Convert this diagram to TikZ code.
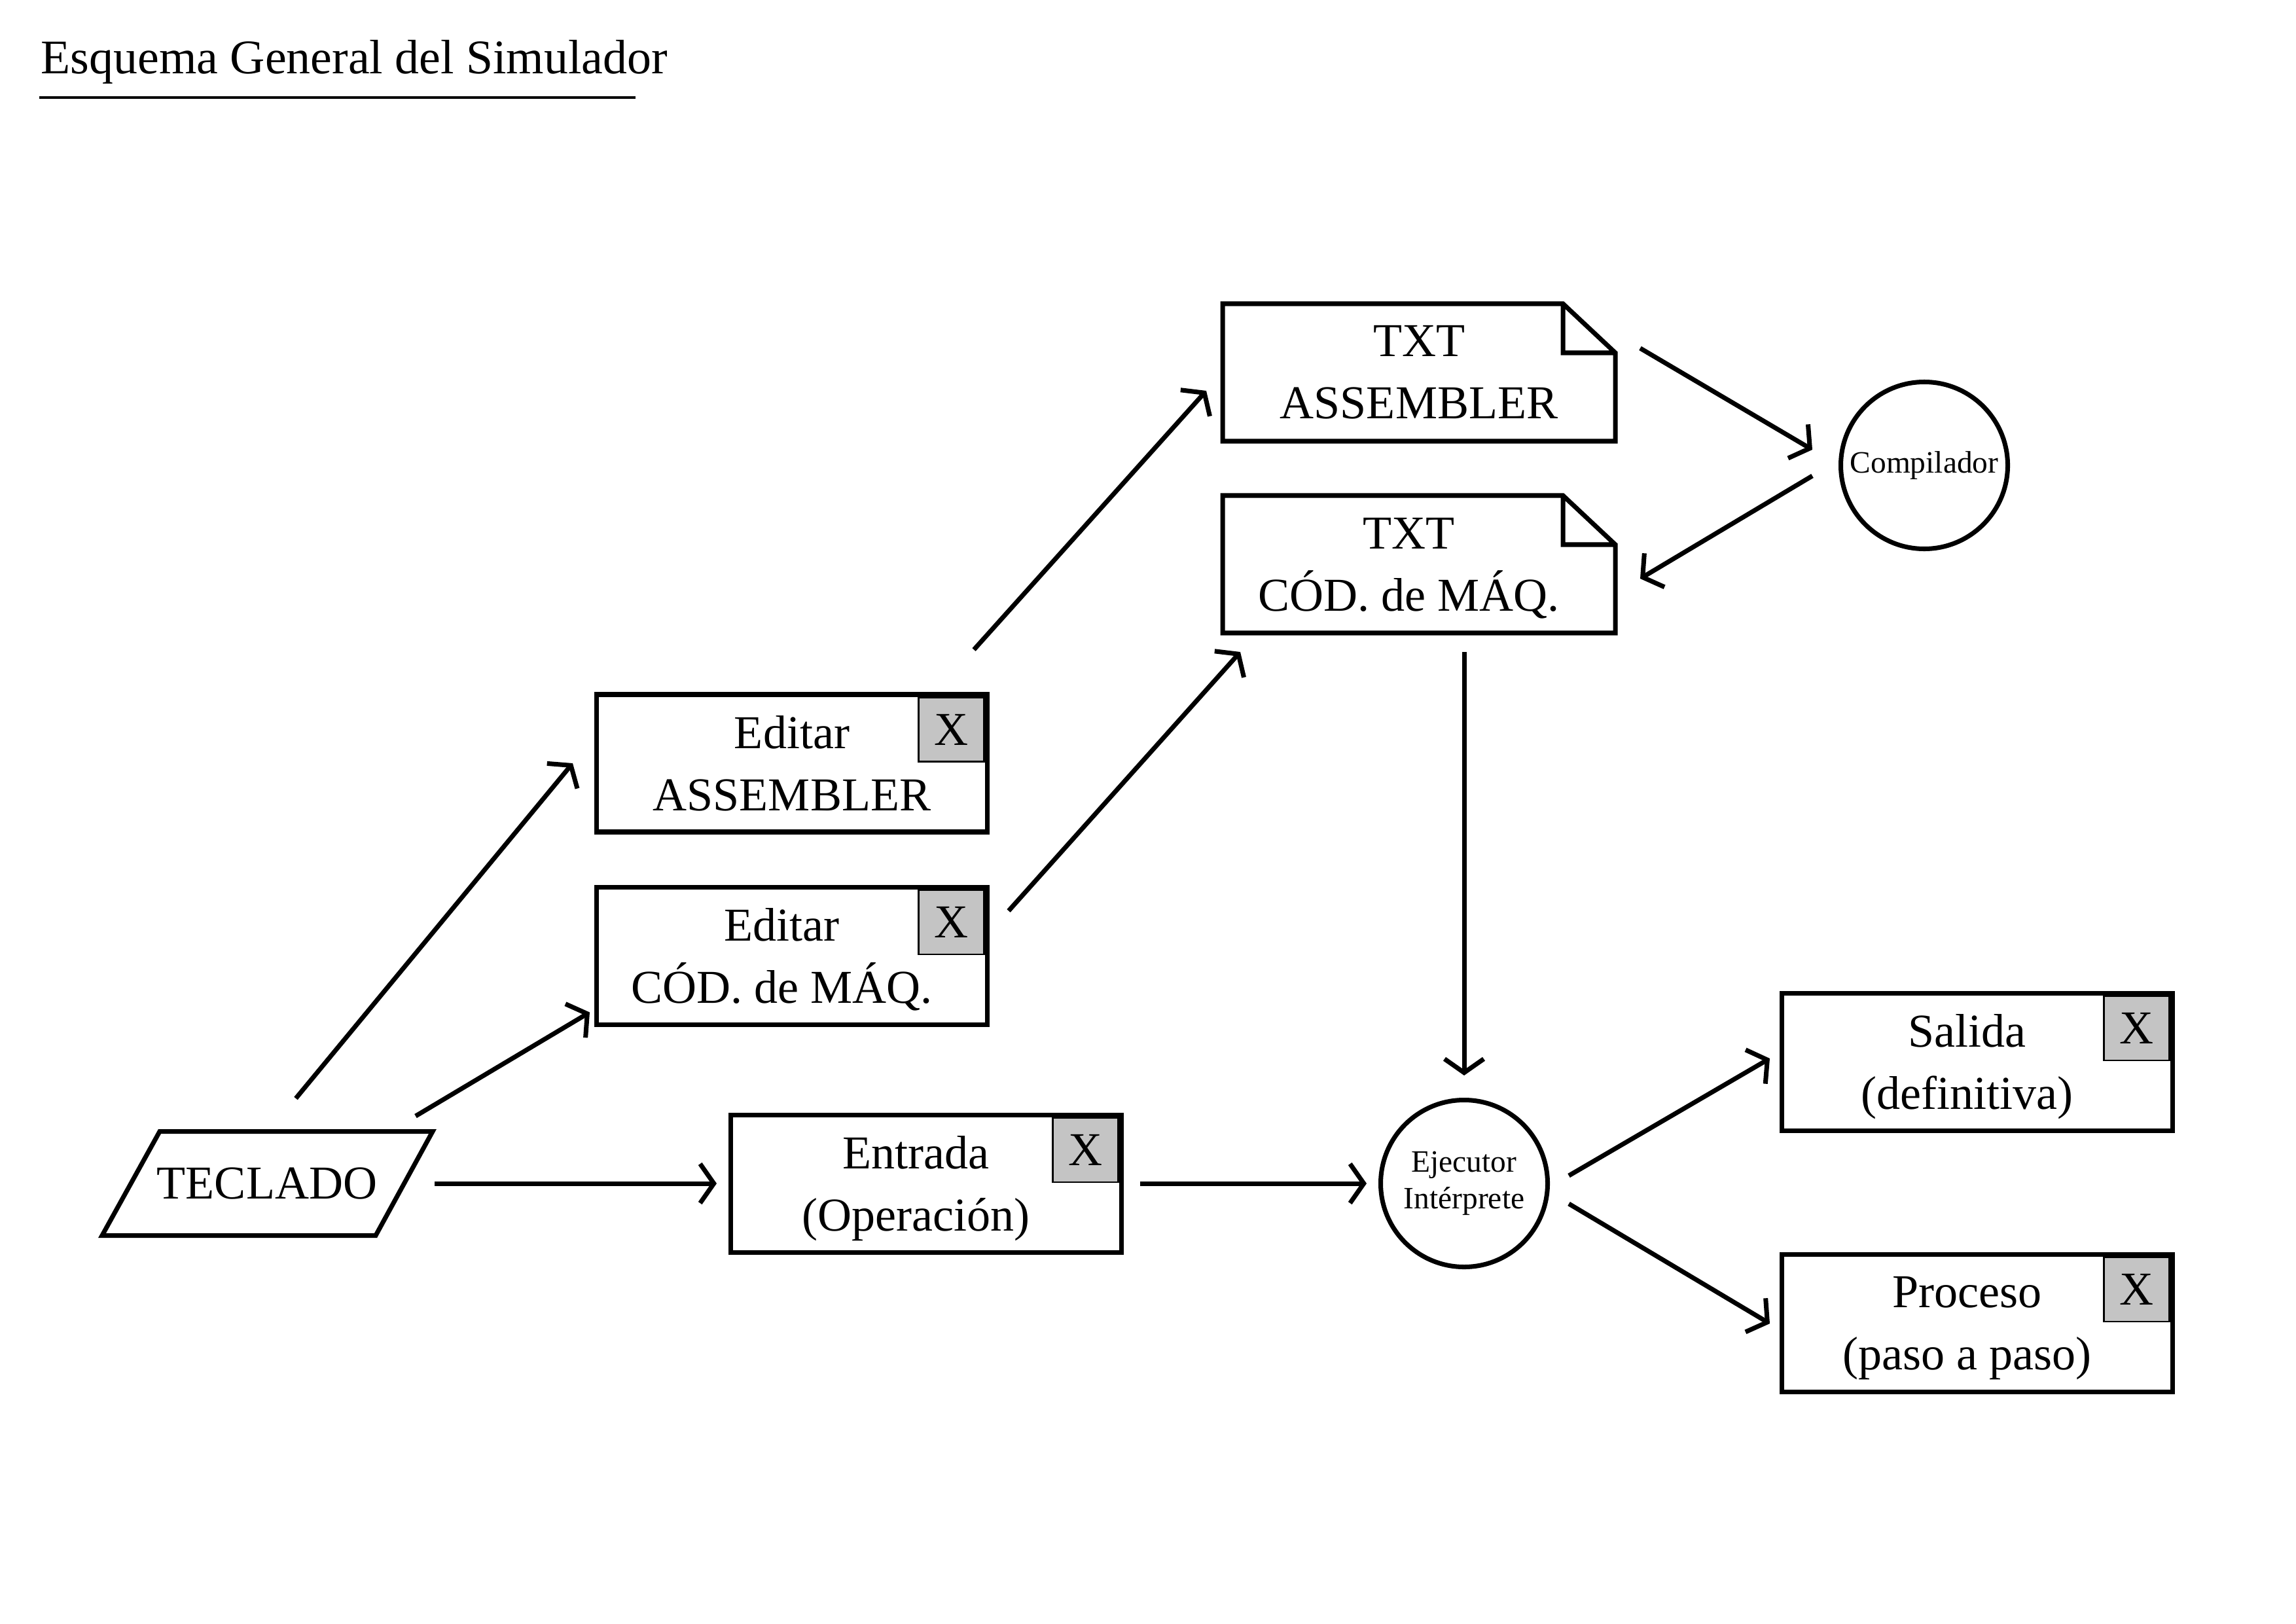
\documentclass[tikz,border=0pt]{standalone}
\usepackage{fontspec}
\setmainfont{Liberation Serif}
\usetikzlibrary{arrows.meta}
\definecolor{xgray}{RGB}{196,196,196}
\newcommand{\corre}{\hspace*{-3.1mm}}

\begin{document}
\begin{tikzpicture}[
  font=\fontsize{20.5}{27}\selectfont,
  box/.style={rectangle, draw, line width=2pt, minimum width=5.97cm, minimum height=2.1cm, align=center, inner sep=0pt},
  docbox/.style={rectangle, minimum width=6.0cm, minimum height=2.1cm, align=center, inner sep=0pt, outer sep=0pt},
  xbox/.style={rectangle, draw, line width=0.8pt, fill=xgray, minimum width=1.0cm, minimum height=0.98cm, inner sep=0pt, anchor=north east},
  proc/.style={circle, draw, line width=2pt, minimum size=2.55cm, inner sep=0pt, align=center, font=\fontsize{13.5}{16}\selectfont},
  arr/.style={line width=2pt, -{Straight Barb[length=2.1mm,width=6mm]}}
]
\useasboundingbox (0,0) rectangle (35.08,-24.80);

% titulo
\node[anchor=base west, inner sep=0pt, font=\fontsize{21}{25}\selectfont] (titulo) at (0.62,-1.13) {Esquema General del Simulador};
\draw[line width=1.4pt] ([shift={(-0.02,-0.36)}]titulo.base west) -- ++(9.11,0);

% archivos de texto
\node[docbox] (txtasm) at (21.68,-5.69) {TXT\\ASSEMBLER};
\node[docbox] (txtcod) at (21.68,-8.62) {\corre TXT\\\corre\smash{CÓD. de MÁQ.}};
\foreach \d in {txtasm,txtcod}
  \draw[line width=2pt, line join=miter] (\d.south west) -- (\d.north west) -- ([xshift=-8mm]\d.north east)
    -- ([yshift=-7.5mm]\d.north east) -- (\d.south east) -- cycle
    ([xshift=-8mm]\d.north east) |- ([yshift=-7.5mm]\d.north east);

\node[proc] (compilador) at (29.40,-7.11) {Compilador};

% editores
\node[box] (editasm) at (12.10,-11.66) {Editar\\ASSEMBLER};
\node[box] (editcod) at (12.10,-14.60) {\corre Editar\\\corre\smash{CÓD. de MÁQ.}};

% teclado, entrada, ejecutor
\node (teclado) at (4.08,-18.08) {TECLADO};
\draw[line width=2pt, line join=miter] ([shift={(-2.52,-0.795)}]teclado.center) -- ([shift={(1.66,-0.795)}]teclado.center)
  -- ([shift={(2.53,0.795)}]teclado.center) -- ([shift={(-1.64,0.795)}]teclado.center) -- cycle;
\node[box] (entrada) at (14.15,-18.08) {\corre Entrada\\\corre\smash{(Operación)}};
\node[proc] (ejecutor) at (22.37,-18.08) {Ejecutor\\Intérprete};

% salidas
\node[box] (salida) at (30.21,-16.22) {\corre Salida\\\corre\smash{(definitiva)}};
\node[box] (proceso) at (30.21,-20.21) {\corre Proceso\\\corre\smash{(paso a paso)}};

% botones X
\foreach \b in {editasm,editcod,entrada,salida,proceso}
  \node[xbox] (x\b) at ([shift={(-0.7mm,-0.7mm)}]\b.north east) {X};

% conectores
\draw[arr] ([shift={(0.44,1.30)}]teclado.center) -- ([xshift=-3.3mm]editasm.west);
\draw[arr] ([shift={(2.27,1.03)}]teclado.center) -- ([shift={(-0.7mm,2.2mm)}]editcod.south west);
\draw[arr] ([xshift=2.56cm]teclado.center) -- ([xshift=-1.8mm]entrada.west);
\draw[arr] ([shift={(-0.24,0.65)}]editasm.north east) -- ([shift={(-0.25,-0.28)}]txtasm.west);
\draw[arr] ([shift={(0.29,-0.40)}]editcod.north east) -- ([shift={(0.27,-0.29)}]txtcod.south west);
\draw[arr] ([shift={(0.38,0.37)}]txtasm.east) -- ([shift={(-0.40,0.24)}]compilador.west);
\draw[arr] ([shift={(-0.40,-0.16)}]compilador.west) -- ([shift={(0.38,-0.22)}]txtcod.east);
\draw[arr] ([shift={(0.69,-0.29)}]txtcod.south) -- ([yshift=3.4mm]ejecutor.north);
\draw[arr] ([xshift=2.5mm]entrada.east) -- ([xshift=-1.8mm]ejecutor.west);
\draw[arr] ([shift={(0.29,0.12)}]ejecutor.east) -- ([shift={(-0.15,0.05)}]salida.west);
\draw[arr] ([shift={(0.29,-0.31)}]ejecutor.east) -- ([shift={(-0.15,-0.01)}]proceso.west);
\end{tikzpicture}
\end{document}
